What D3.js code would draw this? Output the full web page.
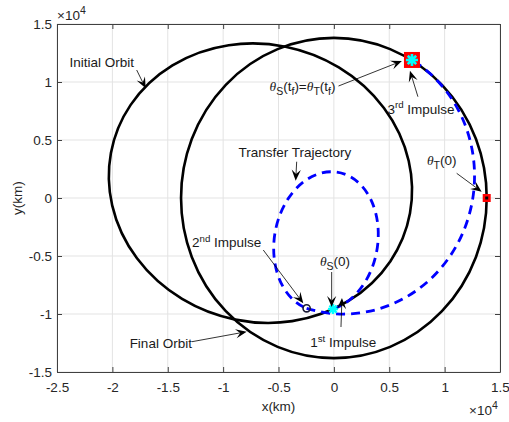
<!DOCTYPE html>
<html>
<head>
<meta charset="utf-8">
<script src="https://cdn.jsdelivr.net/npm/d3@7"></script>
<style>
  body { margin: 0; background: #fff; }
  text { font-family: "Liberation Sans", Arial, Helvetica, sans-serif; }
</style>
</head>
<body>
<svg id="chart" width="509" height="422"></svg>
<script>
// Axis ticks, in units of 10^4 km
const xTicks = [-2.5, -2, -1.5, -1, -0.5, 0, 0.5, 1, 1.5];
const yTicks = [-1.5, -1, -0.5, 0, 0.5, 1, 1.5];

// Closed orbits (km): centre, semi-axes and tilt of the major axis (deg)
const orbitNames = ["Initial Orbit", "Final Orbit"];
const orbitCx = [-6630, 0];
const orbitCy = [1280, 0];
const orbitRx = [13750, 13800];
const orbitRy = [11980, 13800];
const orbitTilt = [-10.9, 0];

// Impulse locations (km): 1st, 2nd, 3rd
const impulseX = [-80, -2460, 7050];
const impulseY = [-9570, -9510, 11900];

// Transfer legs between successive impulses (elliptic arcs, km)
const legRx = [6050, 11800];
const legRy = [4660, 11630];
const legTilt = [78.5, 59.2];
const legLargeArc = [1, 0];

// Target position at t = 0 (km)
const targetX = [13800];
const targetY = [0];

// Annotations: label, label centre, arrow tail and arrow tip (km)
const noteText = ["Initial Orbit", "θ_{S}(t_{f})=θ_{T}(t_{f})", "3^{rd} Impulse",
  "Transfer Trajectory", "θ_{T}(0)", "2^{nd} Impulse", "θ_{S}(0)", "1^{st} Impulse", "Final Orbit"];
const noteX = [-20966, -2830, 7865, -3512, 9733, -9680, 99, 849, -15630];
const noteY = [11750, 9655, 7670, 3922, 3276, -3836, -5405, -12457, -12526];
const tailX = [-17806, 420, 7590, -3359, 11088, -6375, -199, 641, -12813];
const tailY = [11034, 9655, 8730, 3129, 2129, -4483, -6380, -11121, -12388];
const headX = [-16993, 6140, 6870, -3449, 13345, -2763, -199, 731, -7874];
const headY = [9457, 11810, 10970, 1491, 543, -9078, -9397, -8621, -11526];

const svg = d3.select("#chart");
const plotL = 57, plotR = 500, plotT = 24, plotB = 372;

const x = d3.scaleLinear().domain([-25000, 15000]).range([plotL, plotR]);
const y = d3.scaleLinear().domain([-15000, 15000]).range([plotB, plotT]);

const axisColor = "#404040";
const labelColor = "#262626";
const fs = 13.5;

// grid
const grid = svg.append("g").attr("stroke", "#e3e3e3").attr("stroke-width", 1);
grid.selectAll("line.gx").data(xTicks).join("line").attr("class", "gx")
  .attr("x1", d => x(d * 1e4)).attr("x2", d => x(d * 1e4))
  .attr("y1", plotT).attr("y2", plotB);
grid.selectAll("line.gy").data(yTicks).join("line").attr("class", "gy")
  .attr("y1", d => y(d * 1e4)).attr("y2", d => y(d * 1e4))
  .attr("x1", plotL).attr("x2", plotR);

// orbits and transfer legs are drawn in km, mapped by the scales' slopes
const kx = (x(10000) - x(0)) / 10000;
const ky = (y(0) - y(10000)) / 10000;
const geo = svg.append("g")
  .attr("transform", `translate(${x(0)},${y(0)}) scale(${kx},${-ky})`);

geo.selectAll("ellipse").data(orbitNames).join("ellipse")
  .attr("cx", (d, i) => orbitCx[i]).attr("cy", (d, i) => orbitCy[i])
  .attr("rx", (d, i) => orbitRx[i]).attr("ry", (d, i) => orbitRy[i])
  .attr("transform", (d, i) => `rotate(${orbitTilt[i]} ${orbitCx[i]} ${orbitCy[i]})`)
  .attr("fill", "none").attr("stroke", "#000").attr("stroke-width", 2.6)
  .attr("vector-effect", "non-scaling-stroke");

geo.selectAll("path.leg").data(legRx).join("path").attr("class", "leg")
  .attr("d", (d, i) => `M${impulseX[i]},${impulseY[i]} A${legRx[i]},${legRy[i]} ${legTilt[i]} ${legLargeArc[i]} 1 ${impulseX[i + 1]},${impulseY[i + 1]}`)
  .attr("fill", "none").attr("stroke", "#0000ff").attr("stroke-width", 2.8)
  .attr("stroke-dasharray", "9,6")
  .attr("vector-effect", "non-scaling-stroke");

// markers
function asterisk(g, cx, cy, r, w) {
  const s = r * Math.SQRT1_2;
  const p = `M${cx - r},${cy}L${cx + r},${cy}M${cx},${cy - r}L${cx},${cy + r}` +
            `M${cx - s},${cy - s}L${cx + s},${cy + s}M${cx - s},${cy + s}L${cx + s},${cy - s}`;
  g.append("path").attr("d", p).attr("stroke", "#00ffff").attr("stroke-width", w).attr("fill", "none");
}
const marks = svg.append("g");
// target at t = 0
marks.append("rect")
  .attr("x", x(targetX[0]) - 4).attr("y", y(targetY[0]) - 4).attr("width", 8).attr("height", 8)
  .attr("fill", "#ff0000");
marks.append("rect")
  .attr("x", x(targetX[0]) - 1.5).attr("y", y(targetY[0]) - 1.5).attr("width", 3).attr("height", 3)
  .attr("fill", "#000");
// rendezvous point
marks.append("rect")
  .attr("x", x(impulseX[2]) - 8).attr("y", y(impulseY[2]) - 8).attr("width", 16).attr("height", 16)
  .attr("fill", "#ff0000");
asterisk(marks, x(impulseX[2]), y(impulseY[2]), 6, 2.6);
// 1st impulse
asterisk(marks, x(impulseX[0]), y(impulseY[0]), 5, 2.4);
// 2nd impulse
marks.append("circle").attr("cx", x(impulseX[1])).attr("cy", y(impulseY[1])).attr("r", 3.6)
  .attr("fill", "none").attr("stroke", "#1a1a33").attr("stroke-width", 1.6);

// annotation arrows
const arrows = svg.append("g");
noteText.forEach((t, i) => {
  const x1 = x(tailX[i]), y1 = y(tailY[i]), x2 = x(headX[i]), y2 = y(headY[i]);
  const len = Math.hypot(x2 - x1, y2 - y1);
  const ux = (x2 - x1) / len, uy = (y2 - y1) / len;
  const nx = -uy, ny = ux;
  const L = 11, hw = 4.6;
  arrows.append("line").attr("x1", x1).attr("y1", y1)
    .attr("x2", x2 - ux * L * 0.6).attr("y2", y2 - uy * L * 0.6)
    .attr("stroke", "#000").attr("stroke-width", 0.8);
  const pts = [
    [x2, y2],
    [x2 - ux * L + nx * hw, y2 - uy * L + ny * hw],
    [x2 - ux * L * 0.6, y2 - uy * L * 0.6],
    [x2 - ux * L - nx * hw, y2 - uy * L - ny * hw]
  ];
  arrows.append("path").attr("d", "M" + pts.join("L") + "Z").attr("fill", "#000");
});

// annotation labels with sub/superscripts
function richText(g, str, cx, cy, size) {
  const t = g.append("text").attr("x", cx).attr("y", cy + size * 0.36)
    .attr("text-anchor", "middle").attr("font-size", size).attr("fill", "#1a1a1a");
  const parts = str.match(/_\{[^}]*\}|\^\{[^}]*\}|θ|[^_^θ]+/g);
  let back = 0; // baseline shift still to undo before the next run
  parts.forEach(p => {
    let span;
    if (p.startsWith("_{")) {
      const d = size * 0.32;
      span = t.append("tspan").attr("dy", back + d).attr("font-size", size * 0.78).text(p.slice(2, -1));
      back = -d;
    } else if (p.startsWith("^{")) {
      const d = -size * 0.42;
      span = t.append("tspan").attr("dy", back + d).attr("font-size", size * 0.72).text(p.slice(2, -1));
      back = -d;
    } else {
      span = t.append("tspan").attr("dy", back).text(p);
      if (p === "θ") {
        span.attr("font-family", "'Liberation Serif', 'Times New Roman', serif").attr("font-style", "italic");
      }
      back = 0;
    }
  });
}
const notes = svg.append("g");
noteText.forEach((s, i) => richText(notes, s, x(noteX[i]), y(noteY[i]), fs));

// axes
const fmt = d => String(+(d / 1e4).toFixed(2));
const axB = svg.append("g").attr("transform", `translate(0,${plotB})`)
  .call(d3.axisBottom(x).tickValues(xTicks.map(v => v * 1e4)).tickFormat(fmt)
    .tickSizeInner(-5).tickSizeOuter(0).tickPadding(10));
const axL = svg.append("g").attr("transform", `translate(${plotL},0)`)
  .call(d3.axisLeft(y).tickValues(yTicks.map(v => v * 1e4)).tickFormat(fmt)
    .tickSizeInner(-5).tickSizeOuter(0).tickPadding(5));
const axT = svg.append("g").attr("transform", `translate(0,${plotT})`)
  .call(d3.axisTop(x).tickValues(xTicks.map(v => v * 1e4)).tickFormat("")
    .tickSizeInner(-5).tickSizeOuter(0));
const axR = svg.append("g").attr("transform", `translate(${plotR},0)`)
  .call(d3.axisRight(y).tickValues(yTicks.map(v => v * 1e4)).tickFormat("")
    .tickSizeInner(-5).tickSizeOuter(0));
[axB, axL, axT, axR].forEach(a => {
  a.selectAll("path.domain").attr("stroke", axisColor);
  a.selectAll(".tick line").attr("stroke", axisColor);
  a.selectAll("text").attr("font-size", fs).attr("fill", labelColor)
    .attr("font-family", "'Liberation Sans', Arial, sans-serif");
});

// axis titles
svg.append("text").attr("x", (plotL + plotR) / 2).attr("y", 411)
  .attr("text-anchor", "middle").attr("font-size", fs).attr("fill", labelColor).text("x(km)");
svg.append("text").attr("transform", `translate(22,${(plotT + plotB) / 2}) rotate(-90)`)
  .attr("text-anchor", "middle").attr("font-size", fs).attr("fill", labelColor).text("y(km)");

// exponent labels
function expLabel(px, py) {
  const t = svg.append("text").attr("x", px).attr("y", py)
    .attr("font-size", fs).attr("fill", labelColor);
  t.append("tspan").text("\u00D710");
  t.append("tspan").attr("dy", -6).attr("font-size", fs * 0.78).text("4");
}
expLabel(57, 20);
expLabel(469, 415);
</script>
</body>
</html>
